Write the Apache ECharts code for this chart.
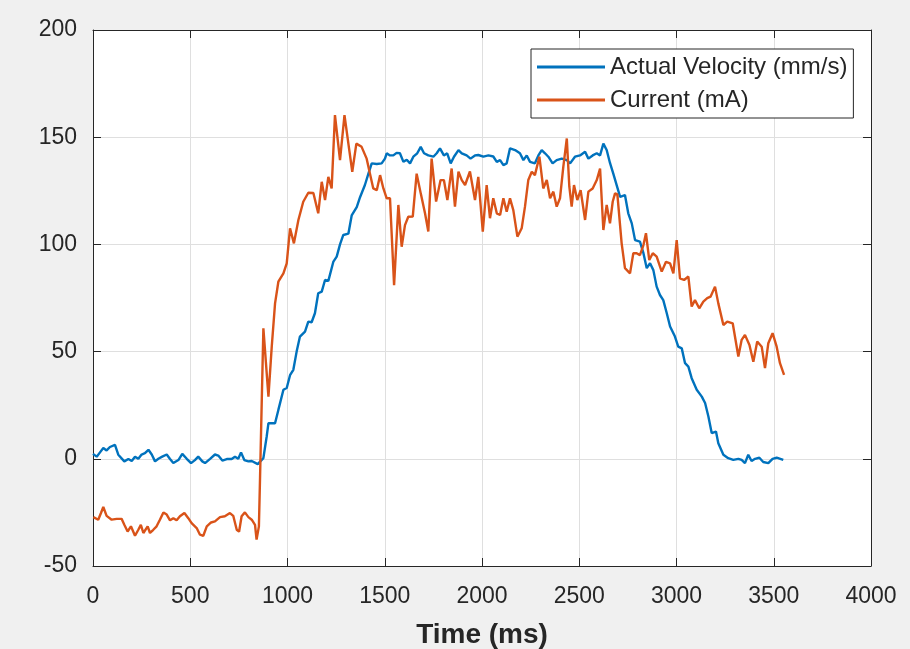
<!DOCTYPE html>
<html>
<head>
<meta charset="utf-8">
<script src="https://cdn.jsdelivr.net/npm/echarts@6/dist/echarts.min.js"></script>
<style>
html,body{margin:0;padding:0;background:#f0f0f0;}
#chart{width:910px;height:649px;}
</style>
</head>
<body>
<div id="chart"></div>
<script>
// ---- data ----
const xTicks = [0, 500, 1000, 1500, 2000, 2500, 3000, 3500, 4000];
const yTicks = [-50, 0, 50, 100, 150, 200];
const seriesNames = ['Actual Velocity (mm/s)', 'Current (mA)'];

const velTime = [0,19,36,53,70,87,113,130,161,182,199,216,233,250,267,285,302,319,336,356,379,396,413,439,459,482,504,524,541,562,576,602,627,644,665,688,713,730,747,761,778,799,816,847,876,893,902,936,953,979,996,1013,1030,1047,1064,1090,1107,1124,1141,1158,1176,1193,1210,1236,1253,1270,1287,1313,1330,1356,1373,1398,1416,1433,1459,1484,1501,1510,1527,1544,1561,1578,1596,1613,1630,1647,1667,1685,1702,1724,1750,1767,1784,1804,1821,1839,1856,1879,1896,1921,1941,1964,1981,2007,2033,2058,2076,2093,2110,2127,2144,2170,2195,2213,2230,2247,2272,2290,2307,2324,2341,2363,2384,2410,2436,2453,2478,2504,2530,2547,2569,2590,2607,2624,2641,2658,2675,2701,2710,2735,2752,2770,2787,2812,2830,2847,2864,2881,2898,2915,2932,2950,2967,2992,3009,3027,3044,3061,3078,3104,3130,3147,3164,3181,3203,3215,3241,3266,3292,3318,3335,3352,3369,3386,3404,3426,3446,3472,3494,3515,3549];
const velValues = [2.3,1,3,5,3.9,5.5,6.5,1.9,-1.2,-0.1,-1,1,0,2,2.6,4.2,2,-1.2,0,1,2,-0.1,-2,-0.6,2.3,0,-2,-0.6,1,-1.2,-2,0,2,1.5,-0.8,-0.1,-0.1,1,0,3,-0.6,-1.2,-1,-2.5,0.3,10.4,16.6,16.6,22.8,32.2,33,39,41.5,50,57,59.3,64,63.7,67.9,77.2,78,83.4,83,92,94.3,100,104.4,105,113.5,117.4,122,127.7,133,137.8,137.5,137.8,140,142.5,141.5,141.5,142.7,142.5,138.5,139.5,137.8,140.9,142.5,145.5,142.5,141.5,140.9,142.5,144.8,141.5,142.5,137.8,140.9,144,142.5,141.5,140,141.5,141.7,140.9,141.5,141,138.5,139.3,137,137.8,144.8,144,142.5,139.3,141.5,138.5,137.8,141.5,144,142.5,140.9,137.8,139.3,140,139.3,137.8,140.9,141.5,143.2,140,141.5,142.5,141.5,147,144,138,133,125,122.2,123,114.5,109.8,102,101.3,95.9,88.9,91.2,88,80.3,76.4,74,67.9,61.7,57,52.3,51.5,44.6,43,37.6,32.2,29,26,19.7,12,12.7,7.3,1.9,0.3,-0.5,0,-0.5,-2,1.9,-1,0,0.5,-1.5,-2,0,0.5,-0.5];

const curTime = [2,27,41,53,70,96,122,147,161,178,195,216,233,246,259,281,293,310,327,344,362,379,396,413,430,447,470,490,507,533,550,567,585,607,627,653,678,704,721,739,751,764,781,799,816,833,841,853,859,876,902,919,936,953,979,996,1013,1033,1056,1081,1107,1133,1158,1176,1193,1210,1227,1244,1270,1293,1313,1333,1354,1381,1407,1424,1441,1459,1476,1493,1510,1527,1548,1570,1587,1604,1621,1644,1664,1685,1707,1724,1741,1764,1787,1804,1822,1844,1861,1879,1896,1913,1938,1964,1981,2004,2024,2041,2058,2076,2093,2110,2127,2144,2161,2182,2204,2221,2238,2256,2272,2295,2315,2333,2350,2367,2384,2401,2418,2436,2449,2461,2473,2490,2507,2530,2547,2569,2590,2607,2624,2641,2658,2672,2684,2696,2718,2735,2761,2778,2795,2812,2830,2843,2860,2878,2898,2924,2946,2967,2984,3001,3018,3039,3061,3078,3095,3117,3138,3158,3175,3198,3215,3241,3261,3289,3318,3335,3352,3375,3395,3415,3438,3455,3472,3494,3515,3532,3553];
const curValues = [-27.2,-28.4,-25.3,-22.5,-26.6,-28.4,-28,-28,-30.8,-33.9,-31.5,-35.9,-33.1,-30.8,-34.6,-31.5,-34.6,-33.1,-31.5,-28.4,-25,-26,-28.7,-27.7,-28.7,-26.8,-25.3,-27.7,-30,-32.3,-35.4,-35.9,-31.5,-29.7,-29.2,-27.2,-26.8,-25.3,-26.6,-33.1,-34,-26.8,-25,-27.2,-28.4,-30.8,-37.7,-31.5,-8.2,60.9,29,52.3,72.5,82.6,86.5,91.2,107.5,100.5,111.4,119.9,124.1,124,114.5,129.2,120.7,131.5,126.1,160.3,139.3,160.3,147,133.9,147,145.5,140,133,126.1,125.3,132.3,126.1,121.5,121.5,81,118.4,98.9,109,112.9,113,133,123.8,114.5,106,140,120,130,130,120.7,135.4,117.6,133.9,130,127.7,134,120.7,131.5,106,127.7,112.2,121.5,114.5,113.7,121.5,115.2,121.5,116,103.6,107.5,117.6,130,133.9,132.3,140.9,126.1,130,121.5,124.6,117.6,121.5,136.2,149.4,126.9,117.6,127.7,120.7,125.3,111.4,124.6,126.1,130,135.4,106.7,118.4,109.8,119.9,123.8,123.3,100.5,88.9,86.5,95.9,95.9,95,99.7,105.2,92.7,95.9,94.3,87.3,91.9,91.2,86.5,102,84.2,83.4,85,71,74,70.2,73.3,74.9,75.6,80.3,72.5,62.4,64,63.2,47.7,55.5,57.8,53.1,45.3,54.7,52.3,42.3,53.9,58.6,52.3,44.6,39.1];

// ---- chart ----
const pair = (ts, vs) => ts.map((t, i) => [t, vs[i]]);
const axisColor = '#262626';
const font = 'Arial, "Liberation Sans", Helvetica, sans-serif';

const chart = echarts.init(document.getElementById('chart'), null, {renderer: 'canvas'});
const xStep = xTicks[1] - xTicks[0];
const yStep = yTicks[1] - yTicks[0];
const plain = v => String(v);

const baseX = {
  type: 'value', min: xTicks[0], max: xTicks[xTicks.length - 1], interval: xStep,
  axisLine: {show: true, onZero: false, lineStyle: {color: axisColor, width: 1}},
  axisTick: {show: true, inside: true, length: 8, lineStyle: {color: axisColor}},
  splitLine: {show: false}
};
const baseY = {
  type: 'value', min: yTicks[0], max: yTicks[yTicks.length - 1], interval: yStep,
  axisLine: {show: true, onZero: false, lineStyle: {color: axisColor, width: 1}},
  axisTick: {show: true, inside: true, length: 8, lineStyle: {color: axisColor}},
  splitLine: {show: false}
};

chart.setOption({
  backgroundColor: '#f0f0f0',
  animation: false,
  textStyle: {fontFamily: font},
  grid: {left: 93, top: 30, width: 778, height: 536, backgroundColor: '#ffffff', show: true, borderWidth: 0,
         containLabel: false, outerBoundsMode: 'none'},
  legend: {
    orient: 'vertical', left: 531, top: 49,
    backgroundColor: '#ffffff', borderColor: axisColor, borderWidth: 1,
    padding: [6, 6, 6, 6], itemGap: 9,
    itemWidth: 68, itemHeight: 3, icon: 'rect',
    textStyle: {fontSize: 24, color: axisColor, fontFamily: font, padding: [0, 0, 0, 0]},
    data: seriesNames
  },
  xAxis: [
    Object.assign({}, baseX, {
      position: 'bottom',
      axisLabel: {show: true, fontSize: 23, color: axisColor, margin: 19, fontFamily: font, formatter: plain},
      splitLine: {show: true, lineStyle: {color: '#dfdfdf', width: 1}},
      name: 'Time (ms)', nameLocation: 'middle', nameGap: 55,
      nameTextStyle: {fontSize: 28, fontWeight: 'bold', color: axisColor, fontFamily: font}
    }),
    Object.assign({}, baseX, {position: 'top', axisLabel: {show: false}})
  ],
  yAxis: [
    Object.assign({}, baseY, {
      position: 'left',
      axisLabel: {show: true, fontSize: 23, color: axisColor, margin: 16, fontFamily: font, formatter: plain},
      splitLine: {show: true, lineStyle: {color: '#dfdfdf', width: 1}}
    }),
    Object.assign({}, baseY, {position: 'right', axisLabel: {show: false}})
  ],
  series: [
    {
      name: seriesNames[0], type: 'line', xAxisIndex: 0, yAxisIndex: 0,
      data: pair(velTime, velValues), showSymbol: false, symbol: 'none',
      lineStyle: {color: '#0072BD', width: 2.4}, itemStyle: {color: '#0072BD'}
    },
    {
      name: seriesNames[1], type: 'line', xAxisIndex: 0, yAxisIndex: 0,
      data: pair(curTime, curValues), showSymbol: false, symbol: 'none',
      lineStyle: {color: '#D95319', width: 2.4}, itemStyle: {color: '#D95319'}
    }
  ]
});
</script>
</body>
</html>
